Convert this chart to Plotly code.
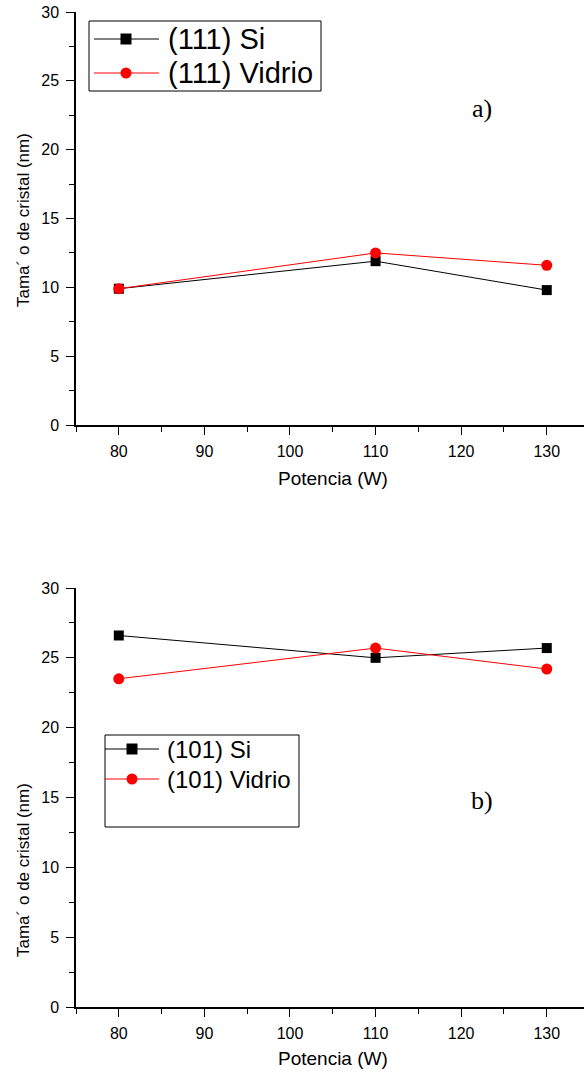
import plotly.graph_objects as go

potencia = [80, 110, 130]
si_111 = [9.9, 11.9, 9.8]
vidrio_111 = [9.9, 12.5, 11.6]
si_101 = [26.6, 25.0, 25.7]
vidrio_101 = [23.5, 25.7, 24.2]

x_ticks = [80, 90, 100, 110, 120, 130]
x_minor = [75, 85, 95, 105, 115, 125]
y_ticks = [0, 5, 10, 15, 20, 25, 30]
y_minor = [2.5, 7.5, 12.5, 17.5, 22.5, 27.5]

W, H = 584, 1074
def px(x): return x / W
def py(y): return 1 - y / H

fig = go.Figure()
for yv, name, color, sym, size, xa, ya in [
    (si_111, "(111) Si", "black", "square", 10, "x", "y"),
    (vidrio_111, "(111) Vidrio", "red", "circle", 11, "x", "y"),
    (si_101, "(101) Si", "black", "square", 10, "x2", "y2"),
    (vidrio_101, "(101) Vidrio", "red", "circle", 11, "x2", "y2"),
]:
    fig.add_trace(go.Scatter(x=potencia, y=yv, mode="lines+markers", name=name,
                             line=dict(color=color, width=1),
                             marker=dict(symbol=sym, size=size, color=color),
                             xaxis=xa, yaxis=ya, showlegend=False, cliponaxis=False))

font = "Liberation Sans, Arial, sans-serif"
xax = dict(range=[75, 134.35], tickvals=x_ticks, ticks="outside", ticklen=8,
           tickwidth=1, tickcolor="black", showline=True, linecolor="black", linewidth=1.5,
           showgrid=False, zeroline=False, tickfont=dict(size=16, color="black", family=font),
           ticklabelstandoff=3,
           minor=dict(tickvals=x_minor, ticks="outside", ticklen=5, tickcolor="black", showgrid=False))
yax = dict(range=[0, 30], tickvals=y_ticks, ticks="outside", ticklen=8,
           tickwidth=1, tickcolor="black", showline=True, linecolor="black", linewidth=1.5,
           showgrid=False, zeroline=False, tickfont=dict(size=16, color="black", family=font),
           ticklabelstandoff=4,
           minor=dict(tickvals=y_minor, ticks="outside", ticklen=5, tickcolor="black", showgrid=False))

fig.update_layout(
    width=W, height=H, margin=dict(l=0, r=0, t=0, b=0, autoexpand=False),
    paper_bgcolor="white", plot_bgcolor="white",
    xaxis=dict(xax, domain=[px(76), 1], anchor="y"),
    yaxis=dict(yax, domain=[py(425), py(12)], anchor="x"),
    xaxis2=dict(xax, domain=[px(76), 1], anchor="y2"),
    yaxis2=dict(yax, domain=[py(1007), py(588)], anchor="x2"),
    showlegend=False,
)

ann = []
shapes = []
for yc, xt in [(220, 478), (870, 1058)]:
    ann.append(dict(x=px(23), y=py(yc), xref="paper", yref="paper", text="Tama´ o de cristal (nm)",
                    textangle=-90, showarrow=False, xanchor="center", yanchor="middle",
                    font=dict(size=17, family=font, color="black")))
    ann.append(dict(x=px(333), y=py(xt), xref="paper", yref="paper", text="Potencia (W)",
                    showarrow=False, xanchor="center", yanchor="middle",
                    font=dict(size=19, family=font, color="black")))
for lab, yy in [("a)", 108), ("b)", 800)]:
    ann.append(dict(x=px(482), y=py(yy), xref="paper", yref="paper", text=lab, showarrow=False,
                    xanchor="center", yanchor="middle",
                    font=dict(size=26, family="Liberation Serif, Times New Roman, serif", color="black")))

def legend(box, rows, x0, x1, xm, xt, fsize, msz):
    bx0, by0, bx1, by1 = box
    shapes.append(dict(type="rect", xref="paper", yref="paper", x0=px(bx0), x1=px(bx1), y0=py(by1), y1=py(by0),
                       line=dict(color="black", width=1), fillcolor="white", layer="above"))
    for (yy, color, sym, label) in rows:
        shapes.append(dict(type="line", xref="paper", yref="paper", x0=px(x0), x1=px(x1), y0=py(yy), y1=py(yy),
                           line=dict(color=color, width=1), layer="above"))
        h = msz / 2
        shapes.append(dict(type="rect" if sym == "square" else "circle", xref="paper", yref="paper",
                           x0=px(xm - h), x1=px(xm + h), y0=py(yy + h), y1=py(yy - h),
                           fillcolor=color, line=dict(color=color, width=0), layer="above"))
        ann.append(dict(x=px(xt), y=py(yy), xref="paper", yref="paper", xanchor="left", yanchor="middle",
                        text=label, showarrow=False, font=dict(size=fsize, family=font, color="black")))

legend((89, 21, 321, 91), [(39, "black", "square", "(111) Si"), (73, "red", "circle", "(111) Vidrio")],
       94, 159, 126, 166, 29, 11)
legend((105, 735, 299, 827), [(749, "black", "square", "(101) Si"), (779, "red", "circle", "(101) Vidrio")],
       105, 159, 132, 165, 24, 11)

fig.update_layout(annotations=ann, shapes=shapes)
fig.write_html("out.html")
